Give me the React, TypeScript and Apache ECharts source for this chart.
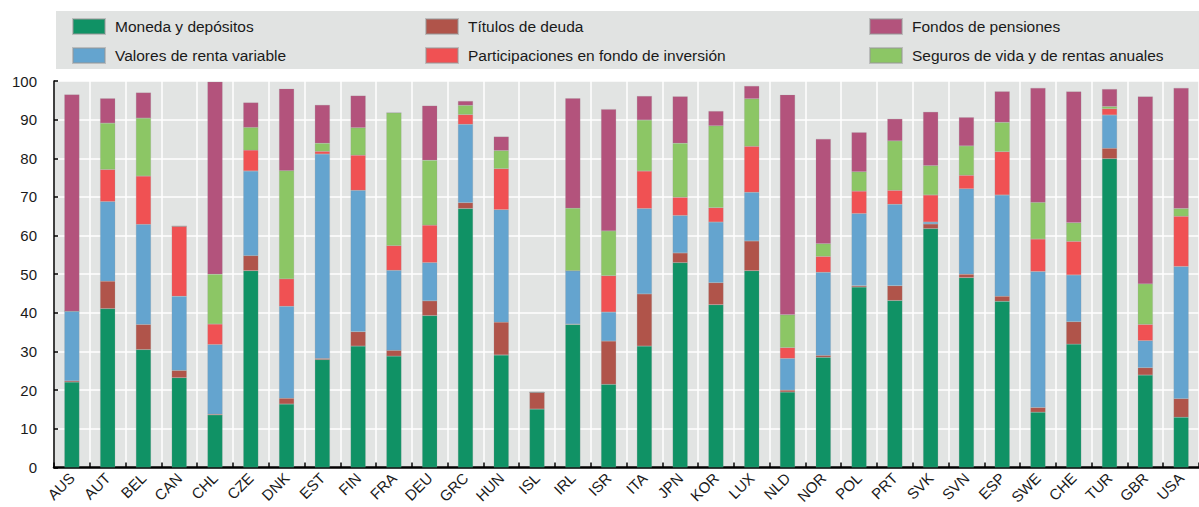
import React, { useEffect, useRef } from "react";
import * as echarts from "echarts";

const categories = ["AUS","AUT","BEL","CAN","CHL","CZE","DNK","EST","FIN","FRA","DEU","GRC","HUN","ISL","IRL","ISR","ITA","JPN","KOR","LUX","NLD","NOR","POL","PRT","SVK","SVN","ESP","SWE","CHE","TUR","GBR","USA"];

const moneda =        [22.1,41.1,30.5,23.2,13.6,50.9,16.4,27.9,31.4,28.8,39.3,67.0,29.1,15.1,37.0,21.5,31.4,53.0,42.1,50.9,19.5,28.5,46.7,43.2,61.8,49.1,43.0,14.3,31.9,79.9,23.9,13.0];
const titulos =       [0.3,7.1,6.5,1.9,0.2,3.9,1.5,0.3,3.7,1.5,3.8,1.5,8.5,4.3,0.1,11.2,13.5,2.5,5.7,7.7,0.5,0.5,0.3,3.8,1.2,0.9,1.3,1.2,5.8,2.7,1.9,4.8];
const valores =       [18.0,20.6,25.9,19.2,18.0,21.9,23.8,52.9,36.6,20.7,9.9,20.3,29.1,0,13.8,7.5,22.1,9.7,15.7,12.6,8.2,21.5,18.7,21.1,0.5,22.1,26.2,35.2,12.1,8.6,7.0,34.2];
const participaciones = [0,8.3,12.5,18.1,5.3,5.4,7.1,0.7,9.1,6.4,9.7,2.5,10.6,0,0,9.4,9.7,4.7,3.7,11.9,2.8,4.1,5.8,3.6,7.0,3.5,11.2,8.4,8.7,1.6,4.2,13.0];
const seguros =       [0,12.0,15.0,0,12.9,5.9,28.0,2.1,7.1,34.4,16.8,2.4,4.7,0,16.2,11.6,13.2,14.0,21.2,12.3,8.5,3.3,5.0,12.8,7.6,7.6,7.6,9.5,4.8,0.6,10.5,2.0];
const pensiones =     [56.1,6.4,6.6,0,49.8,6.4,21.2,9.9,8.3,0,14.1,1.1,3.6,0,28.4,31.5,6.2,12.1,3.8,3.3,56.9,27.1,10.2,5.7,13.9,7.4,8.0,29.6,34.0,4.5,48.5,31.2];

const yTicks = { min: 0, max: 100, interval: 10 };

const seriesNames = [
  "Moneda y depósitos",
  "Títulos de deuda",
  "Valores de renta variable",
  "Participaciones en fondo de inversión",
  "Seguros de vida y de rentas anuales",
  "Fondos de pensiones",
];
const seriesData = [moneda, titulos, valores, participaciones, seguros, pensiones];
const seriesColors = ["#109265", "#b0544a", "#64a4cf", "#f05153", "#8cc665", "#b3537c"];

const FONT = '"Liberation Sans", Arial, sans-serif';

export default function App() {
  const ref = useRef<HTMLDivElement>(null);
  useEffect(() => {
    if (!ref.current) return;
    const chart = echarts.init(ref.current, null, { renderer: "svg" });
    const legendCommon = {
      orient: "vertical",
      top: 18,
      itemWidth: 32,
      itemHeight: 15,
      itemGap: 12,
      icon: "rect",
      padding: 0,
      selectedMode: false,
      textStyle: { fontFamily: FONT, fontSize: 15.5, color: "#1a1a1a", padding: [0, 0, 0, 5] },
    };
    chart.setOption({
      animation: false,
      backgroundColor: "#ffffff",
      graphic: [
        {
          type: "rect",
          shape: { x: 56, y: 11, width: 1160, height: 58 },
          style: { fill: "#e1e3e2" },
          z: -1,
        },
      ],
      legend: [
        { ...legendCommon, left: 72, data: [seriesNames[0], seriesNames[2]] },
        { ...legendCommon, left: 425, data: [seriesNames[1], seriesNames[3]] },
        { ...legendCommon, left: 869, data: [seriesNames[5], seriesNames[4]] },
      ],
      grid: {
        left: 54,
        top: 81,
        width: 1157,
        height: 388,
        show: true,
        backgroundColor: "#e2e4e3",
        borderWidth: 0,
      },
      xAxis: {
        type: "category",
        data: categories,
        boundaryGap: true,
        axisLine: { show: true, lineStyle: { color: "#000", width: 2.5 } },
        axisTick: { show: true, inside: true, length: 5, alignWithLabel: false, lineStyle: { color: "#000", width: 1.5 } },
        splitLine: { show: true, interval: 0, lineStyle: { color: "#ffffff", width: 1.5 } },
        axisLabel: {
          rotate: 45,
          interval: 0,
          margin: 8,
          fontFamily: FONT,
          fontSize: 15,
          color: "#1a1a1a",
        },
      },
      yAxis: {
        type: "value",
        min: yTicks.min,
        max: yTicks.max,
        interval: yTicks.interval,
        axisLine: { show: true, lineStyle: { color: "#000", width: 1.5 } },
        axisTick: { show: true, inside: true, length: 4, lineStyle: { color: "#000", width: 1.5 } },
        splitLine: { show: true, lineStyle: { color: "#ffffff", width: 1.5 } },
        axisLabel: { margin: 17, fontFamily: FONT, fontSize: 15, color: "#1a1a1a" },
      },
      series: seriesNames.map((name, i) => ({
        name,
        type: "bar",
        stack: "total",
        barWidth: 15,
        data: seriesData[i],
        itemStyle: { color: seriesColors[i], borderColor: "rgba(150,150,150,0.5)", borderWidth: 0.4 },
      })),
    });
    return () => chart.dispose();
  }, []);
  return <div ref={ref} style={{ position: "fixed", left: 0, top: 0, width: 1199, height: 507 }} />;
}
